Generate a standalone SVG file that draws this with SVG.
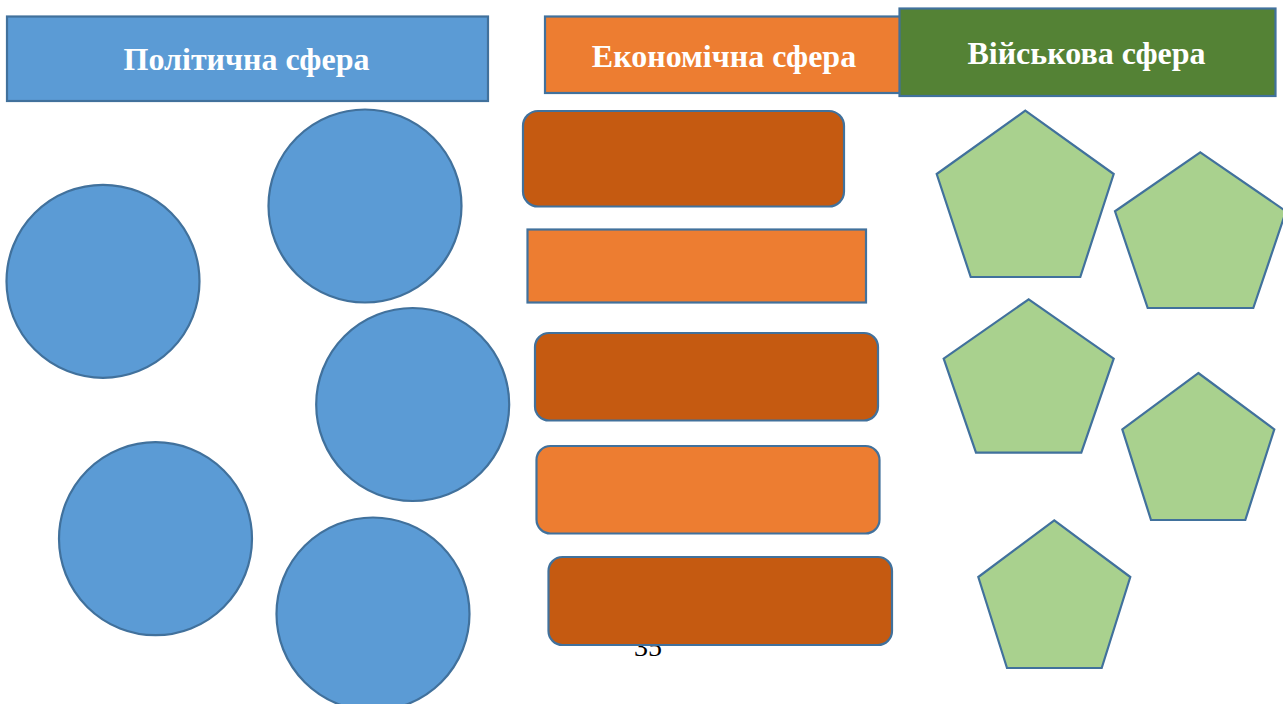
<svg xmlns="http://www.w3.org/2000/svg" width="1283" height="704" viewBox="0 0 1283 704">
<style>
.s{stroke:#41719C;stroke-width:2.2}
.blue{fill:#5B9BD5}
.orange{fill:#ED7D31}
.dark{fill:#C55A11}
.green{fill:#548235}
.pent{fill:#A9D18E}
.h{font-family:"Liberation Serif","Times New Roman",serif;font-weight:bold;font-size:32px;fill:#FFFFFF;text-anchor:middle}
.pg{font-family:"Liberation Serif","Times New Roman",serif;font-size:28px;fill:#000000}
</style>
<rect width="1283" height="704" fill="#FFFFFF"/>
<text class="pg" x="634" y="656">35</text>
<g id="political">
<g id="political-header"><rect class="s blue" x="7" y="16.5" width="481" height="84.5"/><text class="h" x="246.5" y="70">Політична сфера</text></g>
<g id="circle-1"><circle class="s blue" cx="365" cy="206" r="96.5"/></g>
<g id="circle-2"><circle class="s blue" cx="103" cy="281.3" r="96.5"/></g>
<g id="circle-3"><circle class="s blue" cx="412.7" cy="404.5" r="96.5"/></g>
<g id="circle-4"><circle class="s blue" cx="155.5" cy="538.7" r="96.5"/></g>
<g id="circle-5"><circle class="s blue" cx="373" cy="614" r="96.5"/></g>
</g>
<g id="economic">
<g id="economic-header"><rect class="s orange" x="545" y="16.5" width="365" height="76.5"/><text class="h" x="724" y="66.5">Економічна сфера</text></g>
<g id="econ-1"><rect class="s dark" x="523" y="111" width="321" height="95.5" rx="15"/></g>
<g id="econ-2"><rect class="s orange" x="527.5" y="229.5" width="338.5" height="73"/></g>
<g id="econ-3"><rect class="s dark" x="535" y="333" width="343" height="87.5" rx="14"/></g>
<g id="econ-4"><rect class="s orange" x="536.5" y="446" width="343" height="87.5" rx="14"/></g>
<g id="econ-5"><rect class="s dark" x="548.5" y="557" width="343.5" height="88" rx="14"/></g>
</g>
<g id="military">
<g id="military-header"><rect class="s green" x="899.5" y="8.5" width="376" height="87.5"/><text class="h" x="1086.5" y="63.5">Військова сфера</text></g>
<g id="pent-1"><polygon class="s pent" points="1025.3,110.7 1113.7,174 1080.3,277 970.7,277 936.7,174"/></g>
<g id="pent-2"><polygon class="s pent" points="1200.3,152.3 1286,211.3 1253.3,308 1147.7,308 1115,211.3"/></g>
<g id="pent-3"><polygon class="s pent" points="1028.7,299.3 1113.7,358.7 1081.3,452.7 976,452.7 943.7,358.7"/></g>
<g id="pent-4"><polygon class="s pent" points="1198.3,373 1274.3,429.3 1245.3,520 1151,520 1122.3,429.3"/></g>
<g id="pent-5"><polygon class="s pent" points="1054.3,520.3 1130.3,577 1101.7,668 1007,668 978.3,577"/></g>
</g>
<g id="connectors"/>
</svg>
